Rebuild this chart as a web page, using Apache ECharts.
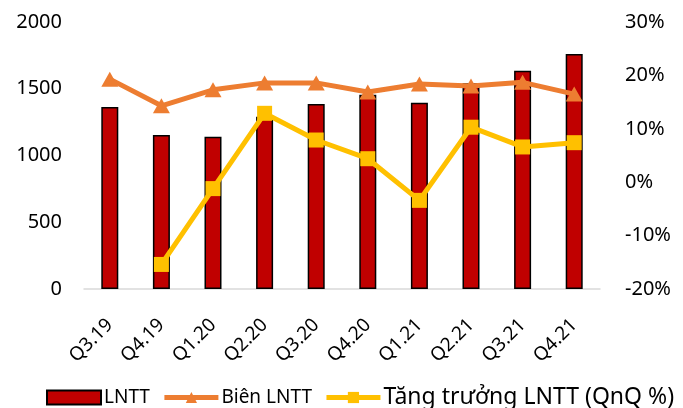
<!DOCTYPE html>
<html>
<head>
<meta charset="utf-8">
<script src="https://cdn.jsdelivr.net/npm/echarts@6/dist/echarts.min.js"></script>
<style>
  html, body { margin: 0; padding: 0; background: #fff; }
  #chart { width: 683px; height: 408px; }
</style>
</head>
<body>
<div id="chart"></div>
<script>
// data
const quarters = ["Q3.19", "Q4.19", "Q1.20", "Q2.20", "Q3.20", "Q4.20", "Q1.21", "Q2.21", "Q3.21", "Q4.21"];
const lntt = [1363, 1154, 1141, 1290, 1386, 1455, 1396, 1541, 1635, 1760]; // tỷ đồng
const bienLntt = [19.3, 14.3, 17.3, 18.6, 18.6, 16.9, 18.4, 18.0, 18.7, 16.5]; // %
const tangTruong = [null, -15.4, -1.2, 12.9, 7.9, 4.4, -3.4, 10.3, 6.6, 7.4]; // % QnQ

const FONT = "Noto Sans";

const chartDom = document.getElementById("chart");
const myChart = echarts.init(chartDom, null, { renderer: "canvas" });

const option = {
  animation: false,
  textStyle: { fontFamily: FONT, color: "#000" },
  grid: { left: 84, right: 83, top: 22, bottom: 119, containLabel: false },
  legend: {
    left: 41,
    top: 381,
    itemWidth: 54,
    itemHeight: 14,
    itemGap: 12,
    textStyle: { fontFamily: FONT, fontSize: 19, color: "#000", padding: [0, 0, 0, -2] },
    data: [
      { name: "LNTT", icon: "rect" },
      { name: "Biên LNTT", lineStyle: { width: 5 } },
      { name: "Tăng trưởng LNTT (QnQ %)", lineStyle: { width: 5 }, textStyle: { fontSize: 23 } },
    ],
  },
  xAxis: [
    {
      type: "category",
      data: quarters,
      axisTick: { show: false },
      axisLine: { lineStyle: { color: "#D9D9D9", width: 1.5 } },
      axisLabel: {
        interval: 0,
        rotate: 45,
        margin: 33,
        fontSize: 19,
        color: "#000",
        fontFamily: FONT,
      },
    },
  ],
  yAxis: [
    {
      type: "value",
      min: 0,
      max: 2000,
      interval: 500,
      splitLine: { show: false },
      axisLine: { show: false },
      axisTick: { show: false },
      axisLabel: {
        margin: 22,
        fontSize: 20,
        color: "#000",
        fontFamily: FONT,
        formatter: (v) => String(v),
      },
    },
    {
      type: "value",
      min: -20,
      max: 30,
      interval: 10,
      position: "right",
      splitLine: { show: false },
      axisLine: { show: false },
      axisTick: { show: false },
      axisLabel: {
        margin: 25,
        fontSize: 20,
        color: "#000",
        fontFamily: FONT,
        formatter: "{value}%",
      },
    },
  ],
  series: [
    {
      name: "LNTT",
      type: "bar",
      yAxisIndex: 0,
      barWidth: 17,
      itemStyle: { color: "#C00000", borderColor: "#000", borderWidth: 1.5 },
      data: lntt,
    },
    {
      name: "Biên LNTT",
      type: "line",
      yAxisIndex: 1,
      symbol: "triangle",
      symbolSize: [17, 15],
      itemStyle: { color: "#ED7D31" },
      lineStyle: { color: "#ED7D31", width: 5 },
      data: bienLntt,
    },
    {
      name: "Tăng trưởng LNTT (QnQ %)",
      type: "line",
      yAxisIndex: 1,
      symbol: "rect",
      symbolSize: 15,
      itemStyle: { color: "#FFC000" },
      lineStyle: { color: "#FFC000", width: 5 },
      data: tangTruong,
    },
  ],
};

myChart.setOption(option);
</script>
</body>
</html>
